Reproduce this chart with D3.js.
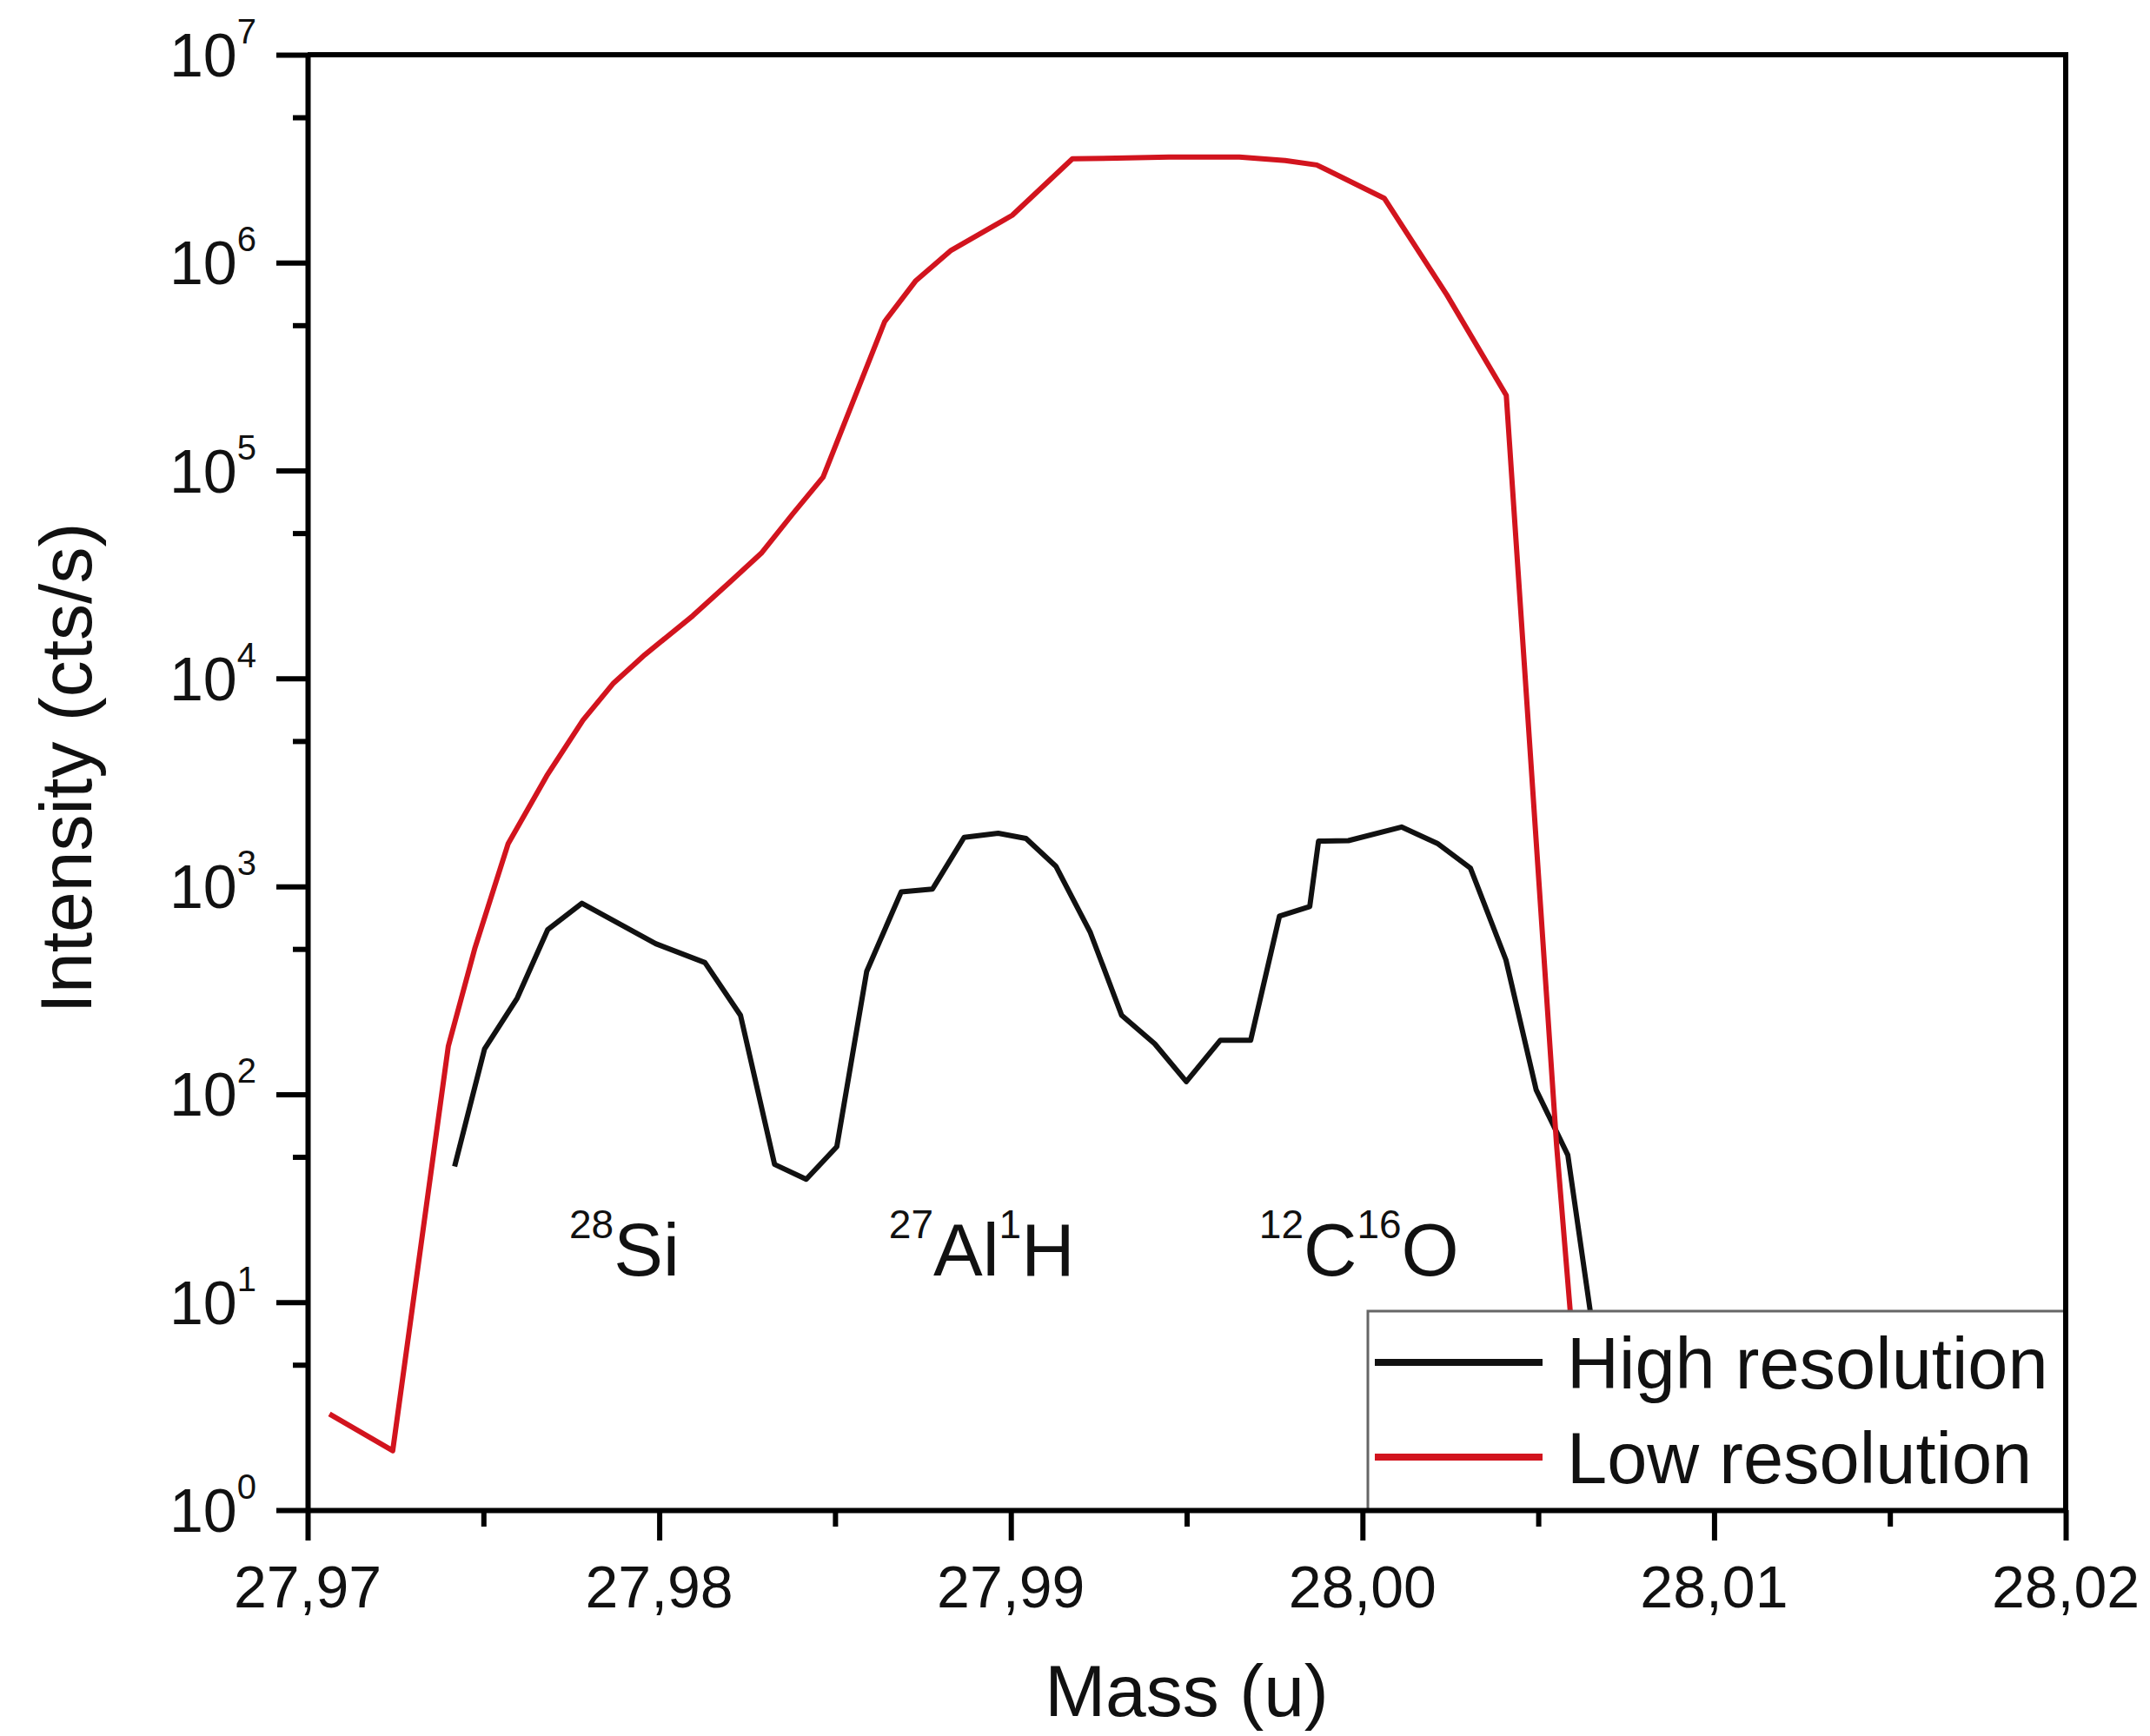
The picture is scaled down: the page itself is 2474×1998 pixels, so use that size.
<!DOCTYPE html>
<html>
<head>
<meta charset="utf-8">
<script src="https://cdn.jsdelivr.net/npm/d3@7"></script>
<style>
  body { margin: 0; background: #fff; }
  text { font-family: "Liberation Sans", Arial, sans-serif; fill: #111; }
</style>
</head>
<body>
<div id="chart"></div>
<script>

// data: mass (u) and intensity (cts/s)
const highMass = [27.97418, 27.97503, 27.97596, 27.97683, 27.97780, 27.97990, 27.98130, 27.98231,
                  27.98328, 27.98418, 27.98505, 27.98590, 27.98688, 27.98777, 27.98867, 27.98964,
                  27.99043, 27.99128, 27.99226, 27.99315, 27.99409, 27.99499, 27.99596, 27.99682,
                  27.99764, 27.99850, 27.99875, 27.99960, 28.00111, 28.00213, 28.00307, 28.00408,
                  28.00494, 28.00584, 28.00648, 28.00700]
const highValues = [45, 165, 290, 620, 830, 530, 430, 240,
                    46, 39, 56, 390, 940, 970, 1720, 1800,
                    1700, 1250, 600, 240, 175, 115, 182, 182,
                    720, 800, 1650, 1660, 1930, 1610, 1225, 443,
                    105, 51, 9, 1]

const lowMass = [27.97062, 27.97242, 27.97400, 27.97475, 27.97570, 27.97680, 27.97783, 27.97870,
                 27.97959, 27.98095, 27.98200, 27.98290, 27.98380, 27.98466, 27.98641, 27.98730,
                 27.98828, 27.99004, 27.99175, 27.99300, 27.99450, 27.99650, 27.99780, 27.99870,
                 28.00062, 28.00240, 28.00409, 28.00552, 28.00591, 28.00650, 28.01240, 28.01270,
                 28.01450, 28.01480]
const lowValues = [2.9, 1.93, 170, 500, 1600, 3400, 6300, 9500,
                   13000, 20000, 29000, 40000, 62000, 93000, 520000, 820000,
                   1140000, 1690000, 3160000, 3180000, 3220000, 3220000, 3100000, 2950000,
                   2040000, 700000, 230000, 57, 9, 0.3, 0.5, 1.02,
                   1.02, 0.5]

const xTicks = [27.97, 27.98, 27.99, 28.00, 28.01, 28.02]
const xMinorTicks = [27.975, 27.985, 27.995, 28.005, 28.015]
const yExponents = [0, 1, 2, 3, 4, 5, 6, 7]

const seriesNames = ["High resolution", "Low resolution"]
const seriesColors = ["#111111", "#d2141e"]

// peak labels: [isotope mass number, element] pairs, anchored at mass / intensity
const peakLabels = [
  { mass: 27.97744, value: 13.5, parts: [["28", "Si"]] },
  { mass: 27.98653, value: 13.5, parts: [["27", "Al"], ["1", "H"]] },
  { mass: 27.99706, value: 13.5, parts: [["12", "C"], ["16", "O"]] }
]

const width = 2474,
      height = 1998
const margin = { top: 63, right: 97, bottom: 260, left: 354 }
const plotW = width - margin.left - margin.right,
      plotH = height - margin.top - margin.bottom

const svg = d3.select("#chart")
              .append("svg")
              .attr("width", width)
              .attr("height", height)

const x = d3.scaleLinear()
            .domain([27.97, 28.02])
            .range([margin.left, margin.left + plotW])

const y = d3.scaleLog()
            .domain([1, 1e7])
            .range([margin.top + plotH, margin.top])

svg.append("clipPath")
   .attr("id", "plot-clip")
   .append("rect")
   .attr("x", margin.left)
   .attr("y", margin.top)
   .attr("width", plotW)
   .attr("height", plotH)

// lines
const line = d3.line()
               .x(d => x(d[0]))
               .y(d => y(d[1]))

const series = [
  d3.zip(highMass, highValues),
  d3.zip(lowMass, lowValues)
]

svg.append("g")
   .attr("clip-path", "url(#plot-clip)")
   .selectAll("path")
   .data(series)
   .join("path")
   .attr("d", line)
   .attr("fill", "none")
   .attr("stroke", (d, i) => seriesColors[i])
   .attr("stroke-width", 6)
   .attr("stroke-linejoin", "round")

// peak labels
peakLabels.forEach(p => {
  const t = svg.append("text")
               .attr("x", x(p.mass))
               .attr("y", y(p.value))
               .style("font-size", "85px")
  p.parts.forEach(part => {
    t.append("tspan").text(part[0]).style("font-size", "46px").attr("dy", -43)
    t.append("tspan").text(part[1]).attr("dy", 43)
  })
})

// legend
const legend = svg.append("g")
const legX = 1574, legY = 1509
legend.append("rect")
      .attr("x", legX)
      .attr("y", legY)
      .attr("width", margin.left + plotW - legX)
      .attr("height", margin.top + plotH - legY)
      .attr("fill", "#fff")
      .attr("stroke", "#666")
      .attr("stroke-width", 3)

seriesNames.forEach((name, i) => {
  const cy = 1568 + i * 109
  legend.append("line")
        .attr("x1", legX + 8).attr("x2", legX + 201)
        .attr("y1", cy).attr("y2", cy)
        .attr("stroke", seriesColors[i])
        .attr("stroke-width", 8)
  legend.append("text")
        .attr("x", legX + 229)
        .attr("y", cy + 30)
        .style("font-size", "83px")
        .text(name)
})

// axes
const axisStroke = 6

svg.append("g")
  .attr("transform", `translate(0,${margin.top + plotH})`)
  .call(d3.axisBottom(x).tickValues(xTicks).tickSize(35).tickSizeOuter(0).tickFormat(""))
svg.append("g")
  .attr("transform", `translate(0,${margin.top + plotH})`)
  .call(d3.axisBottom(x).tickValues(xMinorTicks).tickSize(19).tickFormat(""))
  .call(g => g.select(".domain").remove())

svg.append("g")
  .attr("transform", `translate(${margin.left},0)`)
  .call(d3.axisLeft(y).tickValues(yExponents.map(e => Math.pow(10, e))).tickSize(36).tickSizeOuter(0).tickFormat(""))
svg.append("g")
  .attr("transform", `translate(${margin.left},0)`)
  .call(d3.axisLeft(y).tickValues(yExponents.slice(0, -1).map(e => 5 * Math.pow(10, e))).tickSize(17).tickFormat(""))
  .call(g => g.select(".domain").remove())

svg.selectAll(".domain").attr("stroke-width", axisStroke).attr("stroke", "#000")
svg.selectAll(".tick line").attr("stroke-width", axisStroke).attr("stroke", "#000")

// top and right frame
svg.append("path")
   .attr("d", `M${margin.left},${margin.top}H${margin.left + plotW}V${margin.top + plotH}`)
   .attr("fill", "none")
   .attr("stroke", "#000")
   .attr("stroke-width", axisStroke)

// tick labels
const commaFormat = d => d3.format(".2f")(d).replace(".", ",")
svg.append("g")
   .selectAll("text")
   .data(xTicks)
   .join("text")
   .attr("x", d => x(d))
   .attr("y", margin.top + plotH + 112)
   .attr("text-anchor", "middle")
   .style("font-size", "68px")
   .text(commaFormat)

const yLabels = svg.append("g")
   .selectAll("text")
   .data(yExponents)
   .join("text")
   .attr("x", margin.left - 59)
   .attr("y", d => y(Math.pow(10, d)) + 25)
   .attr("text-anchor", "end")
   .style("font-size", "70px")
yLabels.append("tspan").text("10")
yLabels.append("tspan").text(d => d).style("font-size", "40px").attr("dy", -38)

// axis titles
svg.append("text")
   .attr("x", margin.left + plotW / 2)
   .attr("y", 1975)
   .attr("text-anchor", "middle")
   .style("font-size", "84px")
   .text("Mass (u)")

svg.append("text")
   .attr("transform", "translate(105,884) rotate(-90)")
   .attr("text-anchor", "middle")
   .style("font-size", "84px")
   .text("Intensity (cts/s)")

</script>
</body>
</html>
